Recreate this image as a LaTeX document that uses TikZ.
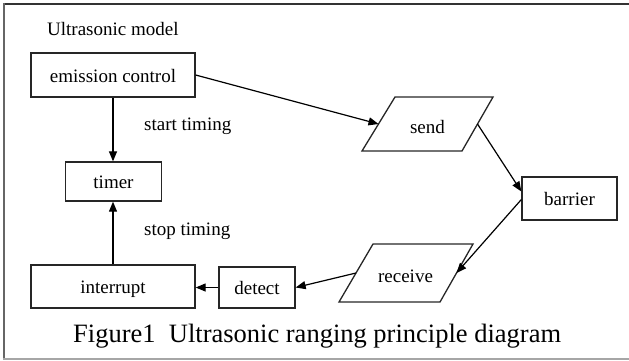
\documentclass[tikz,border=0pt]{standalone}
\usepackage{fontspec}
\setmainfont{Liberation Serif}
\usetikzlibrary{arrows.meta}
\begin{document}
\begin{tikzpicture}[x=1pt,y=-1pt,
  box/.style={draw=black!85,line width=1.3pt,inner sep=0pt,text height=14pt,text depth=0pt,
    font=\fontsize{19}{22}\selectfont},
  lbl/.style={inner sep=0pt,anchor=base west,font=\fontsize{19}{22}\selectfont},
  ptxt/.style={inner sep=0pt,anchor=base,font=\fontsize{19}{22}\selectfont},
  para/.style={draw=black!85,line width=1.3pt,line join=miter},
  conn/.style={line width=1.2pt,-{Triangle[length=10pt,width=8pt]}},
  plain/.style={line width=1.2pt}]
\useasboundingbox (0,0) rectangle (629,360);
% frame
\draw[line width=2pt,black!80] (3,4) -- (629,4);
\draw[line width=1.4pt,black!60] (4,3) -- (4,359);
\draw[line width=1.4pt,black!35] (3,359) -- (629,359);

\node[lbl] (title) at (47,35) {Ultrasonic model};

\node[box,minimum width=164pt,minimum height=44pt] (emit) at (113,75) {emission control};
\node[box,minimum width=96pt,minimum height=39pt] (timer) at (113.5,181.5) {timer};
\node[box,minimum width=164pt,minimum height=43pt] (intr) at (113,286.5) {interrupt};
\node[box,minimum width=76pt,minimum height=41pt] (detect) at (257,287.5) {detect};
\node[box,minimum width=95pt,minimum height=43pt] (barrier) at (569.5,198.5) {barrier};

% send parallelogram
\draw[para] (395,97) -- (493,97) -- (462,151) -- (362,151) -- cycle;
\node[ptxt] (send) at (427.5,133) {send};
\coordinate (sendW) at (378.5,124);
\coordinate (sendE) at (477.5,124);

% receive parallelogram
\draw[para] (373,244) -- (473,244) -- (440,302) -- (339,302) -- cycle;
\node[ptxt] (receive) at (405.5,282) {receive};
\coordinate (recW) at (356,273);
\coordinate (recE) at (456.5,273);

\node[lbl] (start) at (144,130) {start timing};
\node[lbl] (stop) at (144,235) {stop timing};

\draw[conn] (emit.east) -- (sendW);
\draw[conn] (emit.south) -- (emit.south |- timer.north);
\draw[conn] (sendE) -- ([yshift=7pt]barrier.west);
\draw[conn] ([yshift=-1pt]barrier.west) -- (recE);
\draw[conn] (recW) -- (detect.east);
\draw[conn] (detect.west) -- (intr.east |- detect.west);
\draw[conn] (intr.north) -- (intr.north |- timer.south);

\node[inner sep=0pt,anchor=base west,font=\fontsize{26.5}{30}\selectfont] (cap) at (73,342) {Figure1\ \ Ultrasonic ranging principle diagram};
\end{tikzpicture}
\end{document}
